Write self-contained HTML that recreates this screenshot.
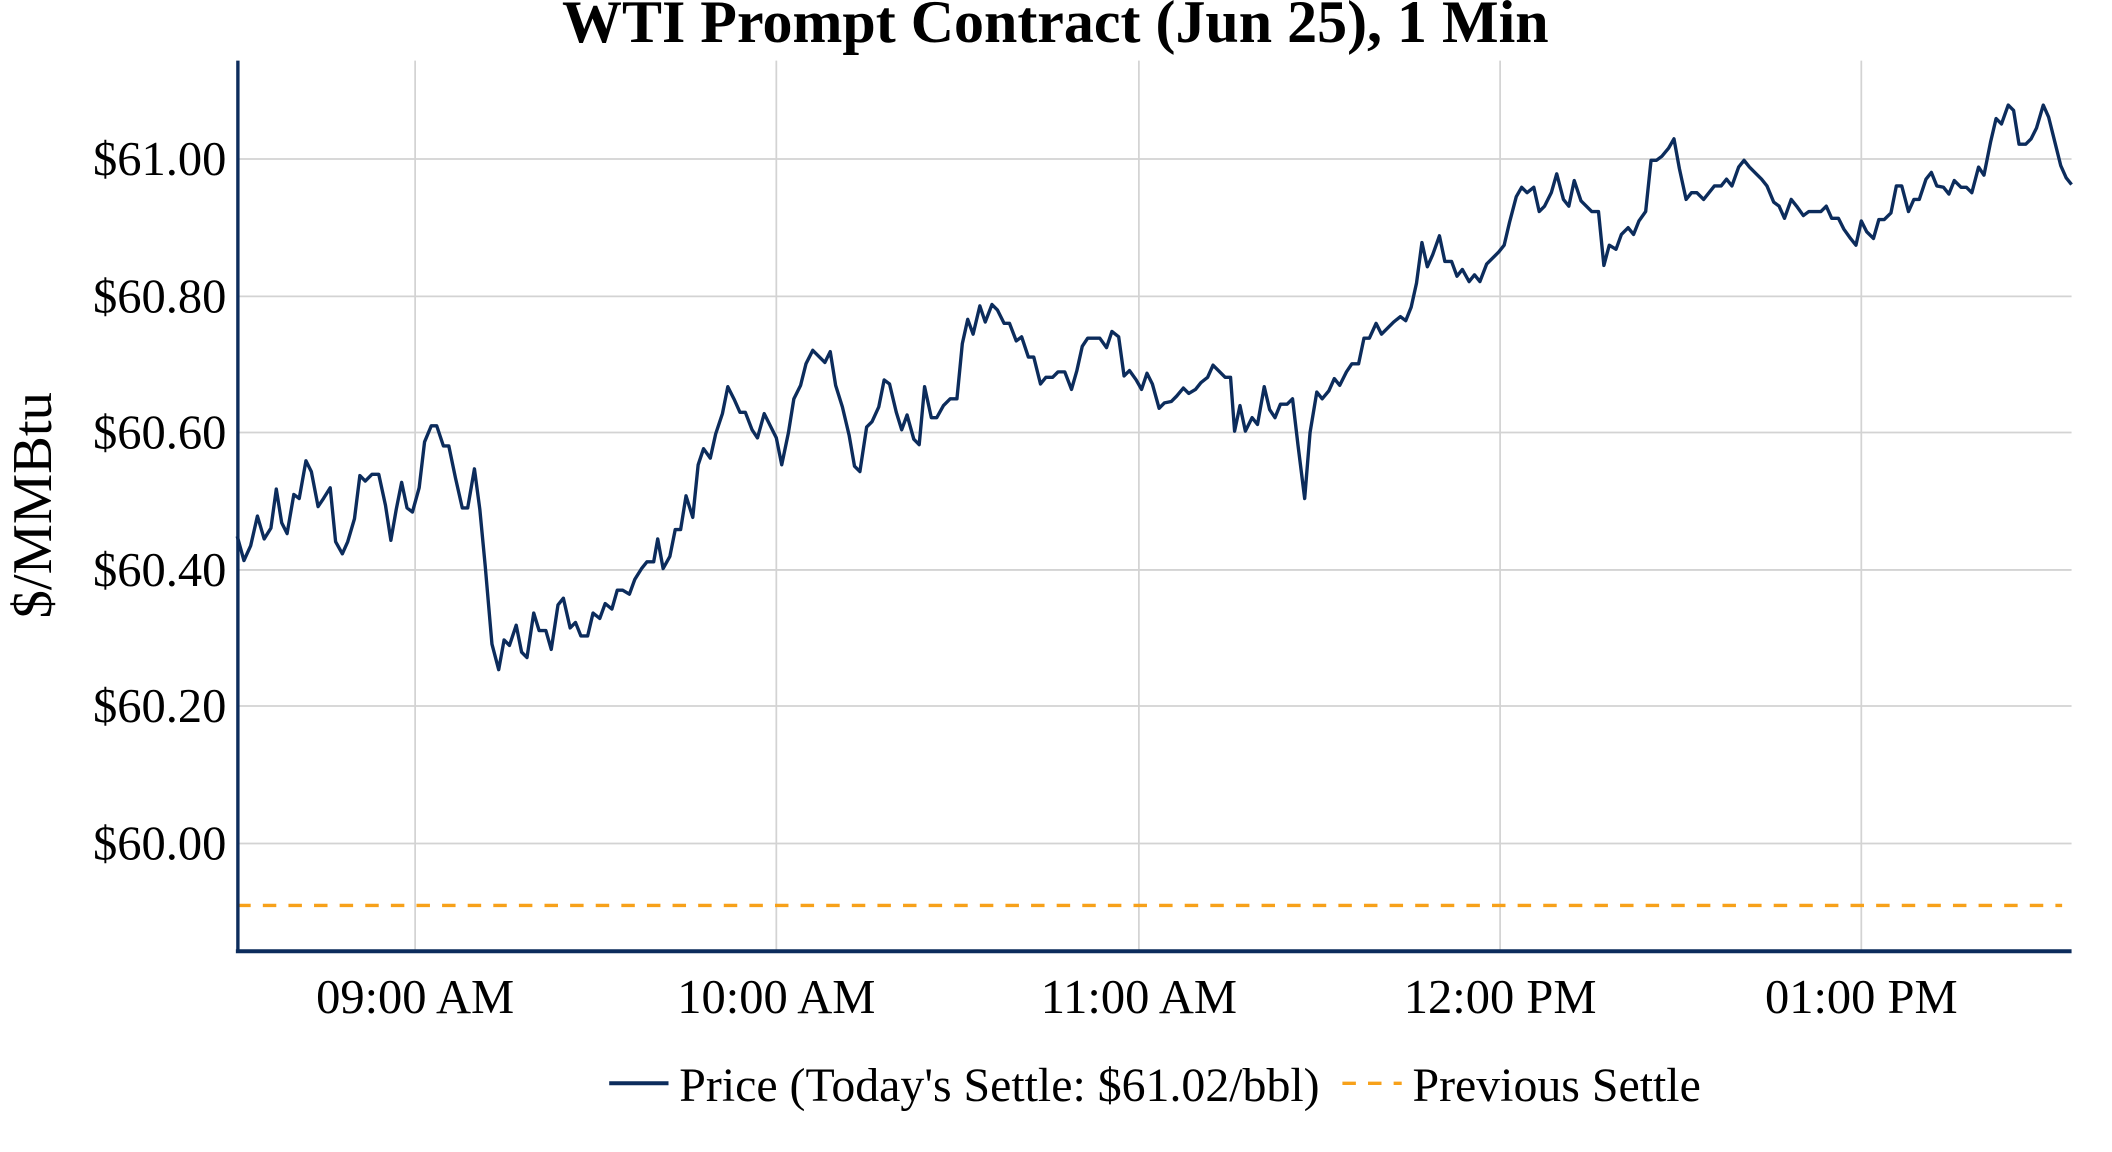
<!DOCTYPE html>
<html><head><meta charset="utf-8"><style>
html,body{margin:0;padding:0;background:#fff;}
svg{display:block;font-family:"Liberation Serif",serif;}
</style></head><body>
<svg width="2112" height="1152" viewBox="0 0 1567 855" preserveAspectRatio="none" xmlns="http://www.w3.org/2000/svg">
<rect width="1567" height="855" fill="#fff"/>
<text x="783" y="31" text-anchor="middle" font-size="44.5" font-weight="bold" fill="#000">WTI Prompt Contract (Jun 25), 1 Min</text>
<g stroke="#d3d3d3" stroke-width="1.3">
<line x1="176" x2="1537" y1="118" y2="118"/><line x1="176" x2="1537" y1="220" y2="220"/>
<line x1="176" x2="1537" y1="321" y2="321"/><line x1="176" x2="1537" y1="423" y2="423"/>
<line x1="176" x2="1537" y1="524" y2="524"/><line x1="176" x2="1537" y1="626" y2="626"/>
<line x1="308" x2="308" y1="45" y2="706"/><line x1="576" x2="576" y1="45" y2="706"/>
<line x1="845" x2="845" y1="45" y2="706"/><line x1="1113" x2="1113" y1="45" y2="706"/>
<line x1="1381" x2="1381" y1="45" y2="706"/>
</g>
<line x1="176" x2="1530" y1="672" y2="672" stroke="#f7a11a" stroke-width="2.5" stroke-dasharray="10,9"/>
<polyline fill="none" stroke="#0c2c5c" stroke-width="2.5" stroke-linejoin="round" points="176,398 181,416 186,405 191,383 196,400 201,392 205,363 209,388 213,396 218,367 222,370 227,342 231,350 236,376 240,370 245,362 249,402 254,411 258,402 263,385 267,353 271,357 276,352 281,352 286,375 290,401 294,378 298,358 302,377 306,380 311,362 315,328 320,316 324,316 329,331 333,331 338,355 343,377 347,377 352,348 356,378 360,420 365,478 370,497 374,475 378,479 383,464 387,484 391,488 396,455 400,468 405,468 409,482 414,449 418,444 423,466 427,462 431,472 436,472 440,455 445,459 449,448 454,452 458,438 462,438 467,441 471,430 476,422 480,417 485,417 488,400 492,422 497,413 501,393 505,393 509,368 514,384 518,345 522,333 527,340 531,322 536,307 540,287 545,297 549,306 553,306 558,319 562,325 567,307 571,315 576,325 580,345 585,321 589,296 594,286 598,270 603,260 607,264 612,269 616,261 620,286 625,302 630,323 634,346 638,350 643,317 647,313 652,302 656,282 660,285 665,306 669,319 673,308 678,326 682,330 686,287 691,310 695,310 700,301 705,296 710,296 714,255 718,237 722,248 727,227 731,239 736,226 740,230 745,240 749,240 754,253 758,250 763,265 767,265 772,285 776,280 781,280 785,276 790,276 795,289 799,275 803,257 807,251 812,251 816,251 821,258 825,246 830,250 834,279 838,275 843,282 847,289 851,277 855,285 860,303 864,299 869,298 873,294 878,288 882,292 887,289 891,284 896,280 900,271 904,275 909,280 913,280 916,320 920,301 924,320 929,310 933,315 938,287 942,304 946,310 950,300 955,300 959,296 963,330 968,370 972,321 977,291 981,296 986,290 990,281 994,286 999,276 1003,270 1008,270 1012,251 1016,251 1021,240 1025,248 1030,243 1034,239 1039,235 1043,238 1047,228 1051,210 1055,180 1059,198 1063,189 1068,175 1072,194 1077,194 1081,205 1085,200 1090,209 1094,204 1098,209 1103,196 1107,192 1112,187 1116,182 1120,165 1125,146 1129,139 1133,143 1138,139 1142,157 1146,153 1151,143 1155,129 1160,148 1164,153 1168,134 1173,149 1177,153 1181,157 1186,157 1190,197 1194,182 1199,185 1203,174 1208,169 1212,174 1216,164 1221,157 1225,119 1229,119 1233,116 1238,110 1242,103 1246,125 1251,148 1255,143 1259,143 1264,148 1268,143 1272,138 1277,138 1281,133 1285,138 1290,124 1294,119 1298,124 1303,129 1307,133 1311,138 1316,150 1320,153 1324,162 1329,148 1333,153 1338,160 1342,157 1346,157 1351,157 1355,153 1359,162 1364,162 1368,170 1373,177 1377,182 1381,164 1385,172 1390,177 1394,163 1398,163 1403,158 1407,138 1411,138 1416,157 1420,148 1424,148 1429,133 1433,128 1437,138 1442,139 1446,144 1450,134 1455,139 1459,139 1463,143 1468,124 1472,130 1477,105 1481,88 1485,92 1490,78 1494,82 1498,107 1503,107 1507,103 1511,95 1516,78 1520,87 1525,107 1529,123 1533,132 1537,137"/>
<line x1="176.5" x2="176.5" y1="45" y2="707" stroke="#0c2c5c" stroke-width="2.5"/>
<line x1="175" x2="1537" y1="706" y2="706" stroke="#0c2c5c" stroke-width="3"/>
<g font-size="36" fill="#000" text-anchor="end">
<text x="168" y="130">$61.00</text><text x="168" y="232">$60.80</text>
<text x="168" y="333">$60.60</text><text x="168" y="435">$60.40</text>
<text x="168" y="536">$60.20</text><text x="168" y="638">$60.00</text>
</g>
<g font-size="36" fill="#000" text-anchor="middle">
<text x="308" y="752">09:00 AM</text><text x="576" y="752">10:00 AM</text>
<text x="845" y="752">11:00 AM</text><text x="1113" y="752">12:00 PM</text>
<text x="1381" y="752">01:00 PM</text>
</g>
<text transform="translate(38,375) rotate(-90)" text-anchor="middle" font-size="42" fill="#000">$/MMBtu</text>
<line x1="452" x2="496" y1="804" y2="804" stroke="#0c2c5c" stroke-width="3"/>
<text x="504" y="817" font-size="35.5" fill="#000">Price (Today's Settle: $61.02/bbl)</text>
<line x1="996" x2="1040" y1="804" y2="804" stroke="#f7a11a" stroke-width="2.5" stroke-dasharray="10,9"/>
<text x="1048" y="817" font-size="35.5" fill="#000">Previous Settle</text>
</svg>
</body></html>
